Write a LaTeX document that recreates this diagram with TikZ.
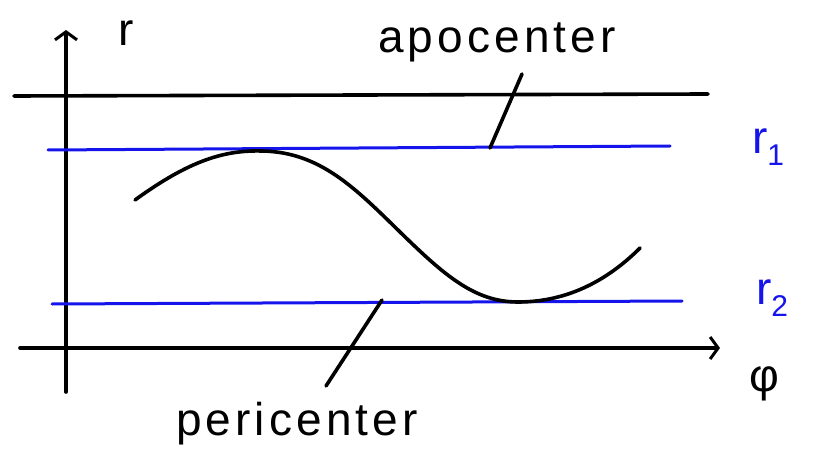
\documentclass[tikz,border=0pt]{standalone}
\usepackage{fontspec}
\setmainfont{Liberation Sans}
\newfontfamily\handfont[LetterSpace=9]{Liberation Sans}
\usetikzlibrary{arrows.meta}
\definecolor{penblue}{RGB}{20,20,235}
\tikzset{
  ink/.style={line width=3.6pt, black, line cap=round},
  blueink/.style={line width=3pt, penblue, line cap=round},
  axisarrow/.style={ink, -{Straight Barb[length=8pt,width=22pt,line width=3pt]}},
  lbl/.style={font=\handfont\fontsize{46}{48}\selectfont, inner sep=0pt},
  bluelbl/.style={lbl, text=penblue},
}
\begin{document}
\begin{tikzpicture}[x=1pt,y=-1pt]
\useasboundingbox (0,0) rectangle (818,454);
% axes
\coordinate (ybot) at (66,392);
\coordinate (ytop) at (66,30);
\coordinate (xl) at (20,348);
\coordinate (xr) at (720,348);
\draw[axisarrow] (ybot) -- (ytop);
\draw[axisarrow] (xl) -- (xr);
\node[lbl] (rlab) at (126,33) {r};
\node[lbl] (philab) at (764,384) {φ};
% top black line
\coordinate (tl) at (14,96);
\coordinate (tr) at (708,94);
\draw[ink] (tl) -- (tr);
% blue lines
\coordinate (b1l) at (48,150);
\coordinate (b1r) at (670,146);
\coordinate (b2l) at (52,304);
\coordinate (b2r) at (682,301);
\draw[blueink] (b1l) -- (b1r);
\draw[blueink] (b2l) -- (b2r);
\node[bluelbl] (r1) at (768,147) {r\raisebox{-0.25em}{\fontsize{30}{30}\selectfont 1}};
\node[bluelbl] (r2) at (772,298) {r\raisebox{-0.25em}{\fontsize{30}{30}\selectfont 2}};
% curve
\coordinate (c0) at (135,200);
\coordinate (cpk) at (262,151);
\coordinate (cmid) at (400,232);
\coordinate (ctr) at (518,302);
\coordinate (cend) at (640,248);
\draw[ink] (c0) .. controls (190,160) and (225,150) .. (cpk)
  .. controls (320,152) and (355,188) .. (cmid)
  .. controls (445,276) and (475,302) .. (ctr)
  .. controls (570,302) and (610,278) .. (cend);
% labels with leaders
\node[lbl] (apo) at (497,42) {apocenter};
\node[lbl] (peri) at (297,424) {pericenter};
\coordinate (apoA) at (522,74);
\coordinate (apoB) at (490,148);
\coordinate (periA) at (382,300);
\coordinate (periB) at (326,386);
\draw[ink] (apoA) -- (apoB);
\draw[ink] (periA) -- (periB);
\end{tikzpicture}
\end{document}
